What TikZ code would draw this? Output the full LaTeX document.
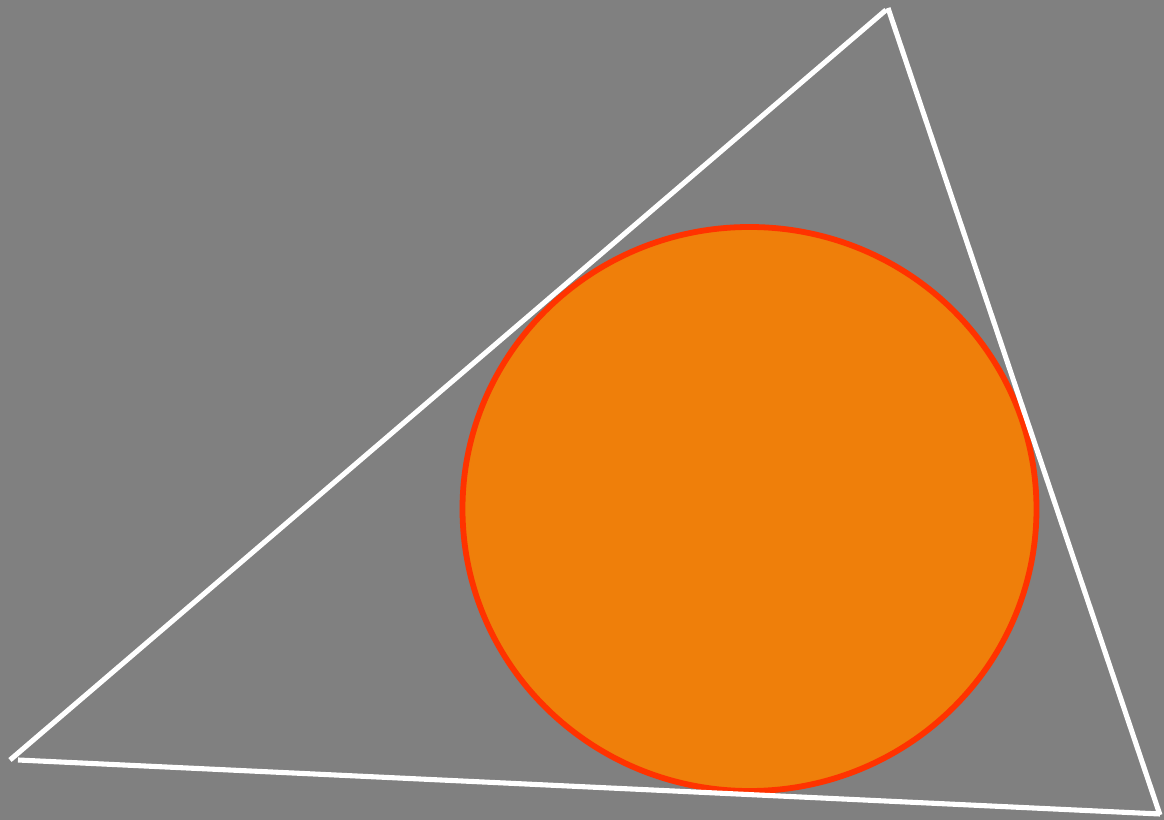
\documentclass[tikz,border=0pt]{standalone}
\usepackage{xcolor}
\usetikzlibrary{calc}
\definecolor{slate}{RGB}{128,128,128}
\definecolor{ember}{RGB}{239,127,10}
\definecolor{flame}{RGB}{255,51,0}
\tikzset{
    edge/.style={
        draw=white,
        line width=2.9pt
    },
    disc/.style={
        fill=ember,
        draw=flame,
        line width=3.3pt
    }
}
\begin{document}
\begin{tikzpicture}[x=0.02cm, y=-0.02cm]
    % Background
    \fill[slate] (0,0) rectangle (1164,820);
    \useasboundingbox (0,0) rectangle (1164,820);

    % Corners of the triangle
    \coordinate (apex) at (886,10);
    \coordinate (apexR) at (888,8);
    \coordinate (left) at (10,760);
    \coordinate (leftB) at (18,760);
    \coordinate (right) at (1160,815);
    \coordinate (rightB) at (1160,814);

    % Inscribed disc
    \draw[disc] (749.5,509) ellipse (287 and 282);

    % Sides drawn one by one
    \draw[edge] (left) -- (apex);
    \draw[edge] (apexR) -- (right);
    \draw[edge] (leftB) -- (rightB);
\end{tikzpicture}
\end{document}
